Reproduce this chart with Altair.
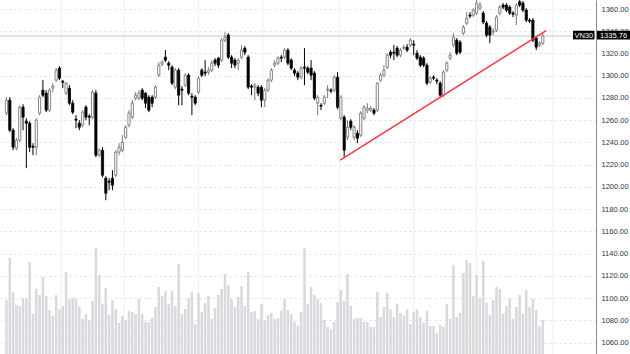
import altair as alt
import pandas as pd

opens = [1266.3, 1278, 1251, 1234.8, 1242, 1271.7, 1259.1, 1257.3, 1236.6, 1235.7,
         1266.3, 1287, 1284.3, 1269, 1288.8, 1296, 1306.8, 1295.1, 1284.3, 1288.8,
         1275.3, 1260.9, 1257.3, 1255.5, 1271.7, 1263.6, 1262.7, 1284.3, 1228.5, 1233,
         1207.8, 1205.1, 1207.8, 1210.5, 1231.2, 1233, 1244.7, 1255.5, 1262.7, 1279.8,
         1279.8, 1287, 1284.3, 1280.7, 1280.7, 1280.7, 1300.5, 1310.4, 1316.7, 1311.3,
         1307.7, 1289.7, 1305, 1287.9, 1291.5, 1300.5, 1281.6, 1280.7, 1285.2, 1305,
         1303.2, 1303.2, 1305, 1314, 1315.8, 1314, 1332, 1336.5, 1316.7, 1314,
         1311.3, 1316.7, 1324.8, 1316.7, 1290.6, 1289.7, 1289.7, 1289.7, 1278, 1287,
         1296, 1309.5, 1311.3, 1316.7, 1316.7, 1323, 1314, 1305, 1302.3, 1298.7,
         1307.7, 1306.8, 1306.8, 1302.3, 1275.3, 1273.5, 1275.3, 1287, 1287, 1287,
         1298.7, 1261.8, 1262.7, 1244.7, 1259.1, 1244.7, 1248.3, 1246.5, 1261.8, 1269,
         1269, 1269, 1269, 1296, 1300.5, 1307.7, 1321.2, 1321.2, 1324.8, 1318.5,
         1324.8, 1325.7, 1327.5, 1328.4, 1320.3, 1316.7, 1315.8, 1309.5, 1294.2, 1298.7,
         1296, 1293.3, 1282.5, 1305, 1315.8, 1327.5, 1332, 1330.2, 1338.3, 1347.3,
         1354.5, 1354.5, 1356.3, 1360.8, 1356.3, 1347.3, 1343.7, 1339.2, 1341, 1356.3,
         1363.5, 1363.5, 1361.7, 1356.3, 1354.5, 1366.5, 1365.3, 1359, 1350, 1350,
         1333.8, 1327.5, 1329.3]

closes = [1278, 1251, 1235.7, 1242, 1271.7, 1262.7, 1257.3, 1235.7, 1235.7, 1260,
          1280.7, 1282.5, 1269, 1287, 1290.6, 1305, 1297.8, 1294.2, 1293.3, 1275.3,
          1267.2, 1260, 1253.7, 1267.2, 1262.7, 1262.7, 1285.2, 1228.5, 1233, 1210.5,
          1194.3, 1204.2, 1201.5, 1231.2, 1235.7, 1240.2, 1253.7, 1266.3, 1275.3, 1282.5,
          1284.3, 1279.8, 1275.3, 1269, 1275.3, 1289.7, 1309.5, 1312.2, 1314, 1309.5,
          1293.3, 1305, 1282.5, 1287, 1300.5, 1284.3, 1280.7, 1275.3, 1297.8, 1300.5,
          1302.3, 1305, 1311.3, 1311.3, 1309.5, 1332, 1334.7, 1316.7, 1311.3, 1309.5,
          1314, 1323, 1321.2, 1289.7, 1289.7, 1291.5, 1284.3, 1278, 1287, 1296,
          1305, 1311.3, 1315.8, 1315.8, 1323, 1311.3, 1306.8, 1302.3, 1298.7, 1306.8,
          1306.8, 1303.2, 1300.5, 1279.8, 1280.7, 1272.6, 1280.7, 1287.9, 1286.1, 1298.7,
          1271.7, 1280.7, 1233, 1253.7, 1253.7, 1253.7, 1243.8, 1266.3, 1271.7, 1270.8,
          1270.8, 1266.3, 1293.3, 1300.5, 1305, 1318.5, 1318.5, 1320.3, 1318.5, 1323,
          1325.7, 1323, 1332, 1327.5, 1315.8, 1309.5, 1309.5, 1293.3, 1297.8, 1297.8,
          1295.1, 1282.5, 1303.2, 1311.3, 1318.5, 1334.7, 1320.3, 1321.2, 1343.7, 1351.8,
          1353.6, 1359, 1365.3, 1363.5, 1348.2, 1336.5, 1336.5, 1340.1, 1352.7, 1361.7,
          1361.7, 1359, 1356.3, 1355.4, 1363.5, 1363.5, 1359, 1350, 1349.1, 1332,
          1325.7, 1329.3, 1335.76]

highs = [1280.7, 1280.7, 1252.8, 1243.8, 1273.5, 1274.4, 1261.8, 1259.1, 1239.3, 1261.8,
         1282.5, 1296, 1287, 1288.8, 1293.3, 1306.8, 1308.6, 1296, 1294.2, 1291.5,
         1278, 1264.5, 1260, 1269, 1273.5, 1265.4, 1287, 1287, 1234.8, 1235.7,
         1209.6, 1207.8, 1215, 1233, 1239.3, 1246.5, 1255.5, 1269, 1278, 1285.2,
         1287, 1288.8, 1285.2, 1282.5, 1282.5, 1291.5, 1312.2, 1314, 1323, 1313.1,
         1309.5, 1306.8, 1306.8, 1290.6, 1302.3, 1302.3, 1284.3, 1282.5, 1299.6, 1306.8,
         1314, 1307.7, 1314, 1315.8, 1316.7, 1333.8, 1339.2, 1338.3, 1318.5, 1315.8,
         1315.8, 1327.5, 1326.6, 1318.5, 1292.4, 1293.3, 1291.5, 1291.5, 1288.8, 1297.8,
         1306.8, 1314, 1317.6, 1318.5, 1324.8, 1324.8, 1315.8, 1306.8, 1304.1, 1308.6,
         1324.8, 1308.6, 1314, 1304.1, 1282.5, 1275.3, 1282.5, 1291.5, 1288.8, 1300.5,
         1303.2, 1282.5, 1264.5, 1260, 1260.9, 1255.5, 1251, 1268.1, 1273.5, 1275.3,
         1272.6, 1270.8, 1294.2, 1302.3, 1309.5, 1320.3, 1323, 1327.5, 1326.6, 1324.8,
         1327.5, 1328.4, 1333.8, 1332, 1323, 1318.5, 1317.6, 1311.3, 1299.6, 1300.5,
         1297.8, 1295.1, 1305, 1313.1, 1321.2, 1338.3, 1333.8, 1332, 1345.5, 1357.2,
         1357.2, 1360.8, 1368, 1366.2, 1358.1, 1349.1, 1345.5, 1342.8, 1354.5, 1363.5,
         1365.3, 1365.3, 1363.5, 1358.1, 1365.3, 1368, 1367.1, 1360.8, 1351.8, 1351.8,
         1335.6, 1331.1, 1338.3]

lows = [1264.5, 1249.2, 1233, 1233, 1240.2, 1251, 1216.8, 1231.2, 1228.5, 1228.5,
        1264.5, 1280.7, 1267.2, 1267.2, 1285.2, 1294.2, 1296, 1288.8, 1282.5, 1273.5,
        1265.4, 1252.8, 1251, 1253.7, 1260, 1255.5, 1260.9, 1226.7, 1226.7, 1208.7,
        1188, 1197, 1197, 1208.7, 1228.5, 1231.2, 1242.9, 1253.7, 1260.9, 1278,
        1278, 1278, 1270.8, 1267.2, 1271.7, 1278.9, 1298.7, 1308.6, 1312.2, 1305,
        1291.5, 1287.9, 1273.5, 1273.5, 1289.7, 1282.5, 1264.5, 1273.5, 1283.4, 1298.7,
        1299.6, 1300.5, 1303.2, 1308.6, 1306.8, 1312.2, 1330.2, 1314.9, 1306.8, 1306.8,
        1305, 1314.9, 1318.5, 1287.9, 1282.5, 1278, 1281.6, 1271.7, 1271.7, 1285.2,
        1294.2, 1307.7, 1309.5, 1312.2, 1314.9, 1309.5, 1305, 1299.6, 1296, 1296.9,
        1291.5, 1301.4, 1296, 1278, 1264.5, 1269, 1273.5, 1279.8, 1284.3, 1285.2,
        1269.9, 1260, 1226.7, 1242, 1251, 1242, 1239.3, 1244.7, 1260, 1266.3,
        1267.2, 1264.5, 1267.2, 1294.2, 1298.7, 1305.9, 1315.8, 1314, 1316.7, 1316.7,
        1323, 1321.2, 1325.7, 1318.5, 1314, 1307.7, 1307.7, 1291.5, 1292.4, 1296,
        1292.4, 1280.7, 1280.7, 1303.2, 1314, 1325.7, 1318.5, 1319.4, 1336.5, 1345.5,
        1351.8, 1352.7, 1354.5, 1359, 1346.4, 1334.7, 1329.3, 1336.5, 1339.2, 1354.5,
        1359.9, 1357.2, 1354.5, 1352.7, 1345.5, 1361.7, 1357.2, 1348.2, 1347.3, 1330.2,
        1323, 1325.7, 1327.5]

volumes = [54, 96, 62, 49, 48, 56, 56, 92, 40, 65,
           59, 77, 58, 44, 38, 59, 45, 48, 82, 55,
           56, 56, 47, 35, 40, 34, 53, 106, 79, 50,
           66, 39, 54, 45, 31, 38, 34, 43, 42, 40,
           55, 40, 32, 32, 36, 47, 67, 58, 63, 50,
           63, 48, 90, 40, 45, 56, 62, 30, 61, 42,
           51, 58, 35, 46, 59, 65, 80, 69, 55, 47,
           57, 68, 48, 82, 42, 43, 35, 50, 33, 39,
           41, 35, 36, 43, 55, 44, 40, 32, 28, 42,
           106, 50, 67, 59, 55, 51, 34, 27, 25, 32,
           52, 64, 53, 80, 48, 35, 36, 36, 32, 32,
           27, 27, 62, 37, 47, 61, 45, 37, 50, 41,
           39, 45, 30, 42, 45, 37, 31, 43, 28, 28,
           21, 29, 27, 50, 35, 89, 37, 41, 81, 94,
           91, 58, 79, 56, 93, 51, 39, 54, 67, 65,
           40, 48, 55, 35, 47, 59, 40, 64, 47, 55,
           44, 28, 34]

month_start_idx = [16.5, 35.5, 58, 77.5, 100.5, 123, 142, 165]
trend_idx = [100.8, 163.0]
trend_price = [1224.1, 1340.5]
last_price = 1335.76
symbol = "VN30"
price_ticks = [1060, 1080, 1100, 1120, 1140, 1160, 1180, 1200, 1220, 1240,
               1260, 1280, 1300, 1320, 1340, 1360]

n = len(opens)
df = pd.DataFrame({"i": list(range(n)), "open": opens, "high": highs,
                   "low": lows, "close": closes, "vol": volumes})

XS = alt.Scale(domain=[-0.45, 176.55], nice=False, zero=False)
YS = alt.Scale(domain=[1049.7, 1368.1], nice=False, zero=False)
VS = alt.Scale(domain=[0, 354], nice=False, zero=True)
FONT = "Liberation Sans"
up = "datum.close >= datum.open"

base = alt.Chart(df)

vgrid = alt.Chart(pd.DataFrame({"i": month_start_idx})).mark_rule(
    color="#efefef", strokeWidth=1
).encode(x=alt.X("i:Q", scale=XS, axis=None))

vol = base.mark_bar(width=2.5, color="#d9d9dd").encode(
    x=alt.X("i:Q", scale=XS, axis=None),
    y=alt.Y("vol:Q", scale=VS, axis=None),
)

price_axis = alt.Axis(
    orient="right", values=price_ticks, format=".2f", title=None,
    grid=True, gridColor="#dedede", gridDash=[2, 3], gridWidth=1,
    domain=True, domainColor="#8a8a8a", domainWidth=1,
    ticks=False, labelFontSize=7.5, labelColor="#333333", labelFont=FONT,
    labelPadding=5,
)

hline = alt.Chart(pd.DataFrame({"p": [last_price]})).mark_rule(
    color="#c9c9c9", strokeWidth=1
).encode(y=alt.Y("p:Q", scale=YS, axis=price_axis))

wick = base.mark_rule(strokeWidth=1).encode(
    x=alt.X("i:Q", scale=XS, axis=None),
    y=alt.Y("low:Q", scale=YS, axis=price_axis),
    y2="high:Q",
    color=alt.condition(up, alt.value("#7a7a7a"), alt.value("#000000")),
)

body = base.mark_bar(width=2.2, strokeWidth=0.8).encode(
    x=alt.X("i:Q", scale=XS, axis=None),
    y=alt.Y("open:Q", scale=YS, axis=price_axis),
    y2="close:Q",
    fill=alt.condition(up, alt.value("#ffffff"), alt.value("#000000")),
    stroke=alt.condition(up, alt.value("#6a6a6a"), alt.value("#000000")),
)

trend = alt.Chart(pd.DataFrame({"i": trend_idx, "p": trend_price})).mark_line(
    color="#f23645", strokeWidth=1.5
).encode(
    x=alt.X("i:Q", scale=XS, axis=None),
    y=alt.Y("p:Q", scale=YS, axis=price_axis),
)

half = 3.9
lab = pd.DataFrame({"p": [last_price], "hi": [last_price + half + 0.8],
                    "lo": [last_price - half + 0.8], "sym": [symbol],
                    "txt": [f"{last_price:.2f}"]})
labbase = alt.Chart(lab)
box1 = labbase.mark_rect(color="#000000").encode(
    x=alt.value(573), x2=alt.value(594.5),
    y=alt.Y("hi:Q", scale=YS, axis=price_axis), y2="lo:Q",
)
box2 = labbase.mark_rect(color="#000000").encode(
    x=alt.value(597), x2=alt.value(630),
    y=alt.Y("hi:Q", scale=YS, axis=price_axis), y2="lo:Q",
)
t1 = labbase.mark_text(color="white", fontSize=7.5, font=FONT, align="center",
                       baseline="middle").encode(
    x=alt.value(583.8), y=alt.Y("p:Q", scale=YS, axis=price_axis), text="sym:N"
)
t2 = labbase.mark_text(color="white", fontSize=7.5, font=FONT, align="center",
                       baseline="middle").encode(
    x=alt.value(613.5), y=alt.Y("p:Q", scale=YS, axis=price_axis), text="txt:N"
)

price_layer = alt.layer(hline, wick, body, trend, box1, box2, t1, t2)

chart = alt.layer(vgrid, vol, price_layer).resolve_scale(y="independent").properties(
    width=596, height=354,
    autosize=alt.AutoSizeParams(type="none"),
    padding={"left": 0, "right": 34, "top": 0, "bottom": 0},
    background="white",
).configure_view(strokeWidth=0)

chart.save("out.html", embed_options={"renderer": "svg", "actions": False})
